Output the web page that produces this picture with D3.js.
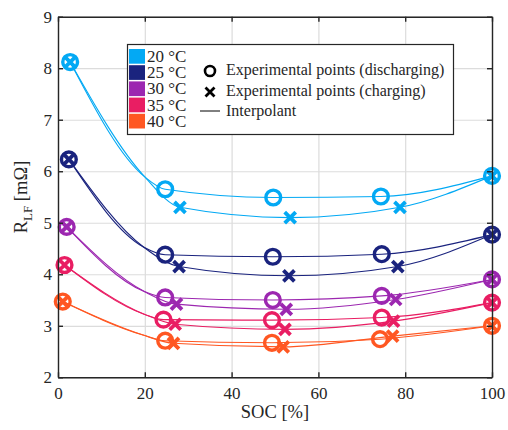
<!DOCTYPE html>
<html lang="en">

<head>
    <meta charset="UTF-8">
    <title>RLF vs SOC</title>
    <script src="https://d3js.org/d3.v7.min.js"></script>
    <style>
        * {
            margin: 0;
            padding: 0;
        }

        body {
            background: #fff;
        }

        text {
            font-family: "Liberation Serif", "Times New Roman", serif;
            fill: #262626;
        }
    </style>
</head>

<body>
    <script>
        var width = 508;
        var height = 430;

        // data
        var temps = ['20 °C', '25 °C', '30 °C', '35 °C', '40 °C'];
        var colors = ['#03a9f4', '#1a237e', '#9c27b0', '#e91e63', '#ff5722'];

        // discharging points (circles)
        var socDis = [
            [2.8, 24.7, 49.6, 74.4, 100],
            [2.5, 24.7, 49.5, 74.6, 100],
            [2.0, 24.7, 49.5, 74.6, 100],
            [1.5, 24.3, 49.3, 74.6, 100],
            [1.1, 24.7, 49.3, 74.2, 100]
        ];
        var rDis = [
            [8.12, 5.65, 5.49, 5.51, 5.91],
            [6.23, 4.38, 4.34, 4.39, 4.77],
            [4.92, 3.55, 3.50, 3.58, 3.90],
            [4.18, 3.12, 3.11, 3.16, 3.45],
            [3.47, 2.71, 2.67, 2.74, 3.00]
        ];

        // charging points (crosses)
        var socChg = [
            [2.8, 28.1, 53.5, 78.8, 100],
            [2.5, 27.9, 53.2, 78.3, 100],
            [2.0, 27.3, 52.6, 77.8, 100],
            [1.5, 27.0, 52.3, 77.3, 100],
            [1.1, 26.6, 51.9, 77.1, 100]
        ];
        var rChg = [
            [8.12, 5.30, 5.10, 5.30, 5.91],
            [6.23, 4.15, 3.97, 4.15, 4.77],
            [4.92, 3.42, 3.32, 3.51, 3.90],
            [4.18, 3.03, 2.93, 3.09, 3.45],
            [3.47, 2.66, 2.59, 2.80, 3.00]
        ];

        // interpolant knot where both branches meet
        var socKnot = [20, 19.7, 20, 20, 19.6];
        var rKnot = [5.89, 4.53, 3.66, 3.22, 2.82];

        var xTicks = [0, 20, 40, 60, 80, 100];
        var yTicks = [2, 3, 4, 5, 6, 7, 8, 9];

        var pLeft = 58, pRight = 492, pTop = 16.7, pBottom = 377.3;

        var svg = d3.select('body')
            .append('svg')
            .attr('width', width)
            .attr('height', height);

        var xScale = d3.scaleLinear().domain([0, 100]).range([pLeft, pRight]);
        var yScale = d3.scaleLinear().domain([2, 9]).range([pBottom, pTop]);

        // grid
        svg.append('g')
            .attr('transform', 'translate(0,' + pBottom + ')')
            .call(d3.axisBottom(xScale).tickValues(xTicks).tickSize(-(pBottom - pTop)).tickFormat(''))
            .call(function (g) {
                g.select('.domain').remove();
                g.selectAll('line').attr('stroke', '#dcdcdc').attr('stroke-width', 1.2);
            });
        svg.append('g')
            .attr('transform', 'translate(' + pLeft + ',0)')
            .call(d3.axisLeft(yScale).tickValues(yTicks).tickSize(-(pRight - pLeft)).tickFormat(''))
            .call(function (g) {
                g.select('.domain').remove();
                g.selectAll('line').attr('stroke', '#dcdcdc').attr('stroke-width', 1.2);
            });

        // interpolant lines
        var line = d3.line()
            .x(function (d) { return xScale(d[0]); })
            .y(function (d) { return yScale(d[1]); })
            .curve(d3.curveMonotoneX);

        function branch(socs, rs, i) {
            var pts = socs[i].map(function (s, j) { return [s, rs[i][j]]; });
            pts.splice(1, 0, [socKnot[i], rKnot[i]]);
            return pts;
        }

        temps.forEach(function (t, i) {
            [branch(socDis, rDis, i), branch(socChg, rChg, i)].forEach(function (pts) {
                svg.append('path')
                    .datum(pts)
                    .attr('d', line)
                    .attr('fill', 'none')
                    .attr('stroke', colors[i])
                    .attr('stroke-width', 1.1);
            });
        });

        // markers
        var xMark = 'M-5.5,-5.5L5.5,5.5M-5.5,5.5L5.5,-5.5';
        temps.forEach(function (t, i) {
            svg.append('g').selectAll('circle')
                .data(socDis[i])
                .enter()
                .append('circle')
                .attr('cx', function (d) { return xScale(d); })
                .attr('cy', function (d, j) { return yScale(rDis[i][j]); })
                .attr('r', 7.4)
                .attr('fill', 'none')
                .attr('stroke', colors[i])
                .attr('stroke-width', 3.4);
            svg.append('g').selectAll('path')
                .data(socChg[i])
                .enter()
                .append('path')
                .attr('d', xMark)
                .attr('transform', function (d, j) {
                    return 'translate(' + xScale(d) + ',' + yScale(rChg[i][j]) + ')';
                })
                .attr('fill', 'none')
                .attr('stroke', colors[i])
                .attr('stroke-width', 3.8);
        });

        // axes box with inward ticks
        var axisColor = '#262626';
        function styleAxis(g) {
            g.select('.domain').attr('stroke', axisColor).attr('stroke-width', 1.4);
            g.selectAll('.tick line').attr('stroke', axisColor).attr('stroke-width', 1.4);
            g.selectAll('text').attr('font-size', '17px').attr('fill', axisColor);
        }
        svg.append('g')
            .attr('transform', 'translate(0,' + pBottom + ')')
            .call(d3.axisBottom(xScale).tickValues(xTicks).tickSizeInner(-5).tickSizeOuter(0).tickPadding(10))
            .call(styleAxis);
        svg.append('g')
            .attr('transform', 'translate(0,' + pTop + ')')
            .call(d3.axisTop(xScale).tickValues(xTicks).tickSizeInner(-5).tickSizeOuter(0).tickFormat(''))
            .call(styleAxis);
        svg.append('g')
            .attr('transform', 'translate(' + pLeft + ',0)')
            .call(d3.axisLeft(yScale).tickValues(yTicks).tickFormat(d3.format('d'))
                .tickSizeInner(-5).tickSizeOuter(0).tickPadding(6))
            .call(styleAxis);
        svg.append('g')
            .attr('transform', 'translate(' + pRight + ',0)')
            .call(d3.axisRight(yScale).tickValues(yTicks).tickSizeInner(-5).tickSizeOuter(0).tickFormat(''))
            .call(styleAxis);

        // axis labels
        svg.append('text')
            .attr('x', (pLeft + pRight) / 2)
            .attr('y', 418)
            .attr('text-anchor', 'middle')
            .attr('font-size', '18.5px')
            .text('SOC [%]');

        var ylab = svg.append('text')
            .attr('transform', 'translate(27,' + (pTop + pBottom) / 2 + ') rotate(-90)')
            .attr('text-anchor', 'middle')
            .attr('font-size', '18.5px');
        ylab.append('tspan').text('R');
        ylab.append('tspan').attr('font-size', '13px').attr('dy', 5).text('LF');
        ylab.append('tspan').attr('dy', -5).text(' [mΩ]');

        // legend
        var legend = svg.append('g');
        legend.append('rect')
            .attr('x', 127.5).attr('y', 44.5)
            .attr('width', 326).attr('height', 90)
            .attr('fill', '#fff')
            .attr('stroke', '#262626')
            .attr('stroke-width', 1.2);

        var rowH = 16.2;
        temps.forEach(function (t, i) {
            legend.append('rect')
                .attr('x', 129).attr('y', 49 + i * rowH)
                .attr('width', 16).attr('height', rowH - 1.5)
                .attr('fill', colors[i]);
            legend.append('text')
                .attr('x', 147).attr('y', 49 + i * rowH + 13)
                .attr('font-size', '17px')
                .text(t);
        });

        legend.append('circle')
            .attr('cx', 210).attr('cy', 71).attr('r', 5)
            .attr('fill', 'none').attr('stroke', '#000').attr('stroke-width', 2.6);
        legend.append('path')
            .attr('d', 'M-4.5,-4.5L4.5,4.5M-4.5,4.5L4.5,-4.5')
            .attr('transform', 'translate(210,92)')
            .attr('fill', 'none').attr('stroke', '#000').attr('stroke-width', 2.8);
        legend.append('line')
            .attr('x1', 200).attr('x2', 220).attr('y1', 111).attr('y2', 111)
            .attr('stroke', '#000').attr('stroke-width', 1);

        var legendText = ['Experimental points (discharging)', 'Experimental points (charging)', 'Interpolant'];
        var legendY = [75, 96, 116];
        legendText.forEach(function (t, i) {
            legend.append('text')
                .attr('x', 226).attr('y', legendY[i])
                .attr('font-size', '16px')
                .attr('fill', '#000')
                .text(t);
        });
    </script>
</body>

</html>
